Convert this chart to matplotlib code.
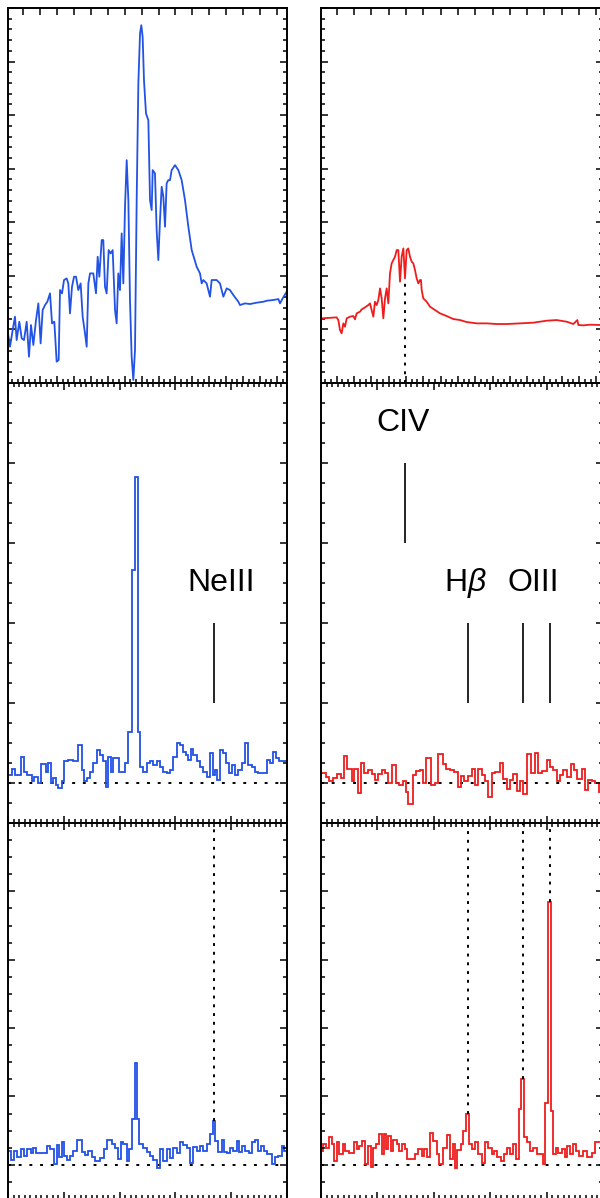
import numpy as np
import matplotlib
matplotlib.use("Agg")
import matplotlib.pyplot as plt
from matplotlib.ticker import MultipleLocator, FixedLocator

plt.rcParams['font.family'] = ['Liberation Sans', 'DejaVu Sans']
plt.rcParams['mathtext.fontset'] = 'custom'
plt.rcParams['mathtext.rm'] = 'Liberation Sans'
plt.rcParams['mathtext.it'] = 'Liberation Sans:italic'

BLUE = '#2252e6'
RED = '#f01c1c'

# ---- top row: 1-d spectra (arbitrary wavelength units 0-5) ----
tl_wave = [0.000, 0.036, 0.084, 0.125, 0.155, 0.203, 0.245, 0.287, 0.335, 0.376,
           0.412, 0.454, 0.502, 0.544, 0.585, 0.621, 0.663, 0.705, 0.753, 0.789,
           0.830, 0.872, 0.908, 0.932, 0.968, 1.004, 1.051, 1.081, 1.111, 1.147,
           1.183, 1.219, 1.260, 1.302, 1.338, 1.380, 1.410, 1.440, 1.470, 1.529,
           1.577, 1.607, 1.637, 1.679, 1.708, 1.738, 1.768, 1.804, 1.840, 1.876,
           1.918, 1.947, 1.977, 2.007, 2.037, 2.067, 2.097, 2.127, 2.157, 2.186,
           2.216, 2.246, 2.276, 2.306, 2.336, 2.366, 2.389, 2.413, 2.437, 2.473,
           2.515, 2.545, 2.575, 2.593, 2.634, 2.664, 2.694, 2.724, 2.754, 2.784,
           2.814, 2.843, 2.873, 2.903, 2.933, 2.993, 3.053, 3.112, 3.172, 3.232,
           3.292, 3.381, 3.441, 3.471, 3.501, 3.560, 3.620, 3.650, 3.740, 3.799,
           3.859, 3.919, 3.978, 4.038, 4.128, 4.158, 4.247, 4.337, 4.456, 4.576,
           4.636, 4.755, 4.845, 4.875, 4.922, 4.994]
tl_flux = [0.927, 0.678, 0.989, 1.238, 0.802, 1.144, 0.833, 0.802, 1.144, 0.491,
           1.082, 0.709, 1.175, 1.486, 0.740, 1.362, 1.455, 1.517, 1.673, 1.113,
           1.144, 0.398, 0.429, 1.735, 1.673, 1.922, 1.953, 1.859, 1.300, 1.797,
           1.984, 1.984, 1.735, 1.859, 1.238, 0.927, 0.678, 1.859, 2.046, 2.046,
           1.673, 2.357, 1.984, 2.668, 2.668, 1.797, 1.673, 2.481, 2.419, 2.481,
           1.362, 1.113, 2.046, 1.735, 2.792, 1.859, 3.290, 4.160, 3.414, 1.549,
           0.491, 0.056, 0.616, 3.414, 5.591, 6.524, 6.679, 6.461, 5.653, 5.031,
           4.907, 3.414, 3.228, 3.974, 3.912, 2.854, 2.295, 3.041, 3.663, 3.476,
           2.917, 3.725, 3.787, 3.787, 3.974, 4.067, 3.974, 3.787, 3.414, 2.917,
           2.481, 2.170, 2.046, 1.859, 1.922, 1.859, 1.611, 1.922, 1.922, 1.859,
           1.611, 1.766, 1.735, 1.642, 1.517, 1.455, 1.486, 1.474, 1.499, 1.517,
           1.536, 1.549, 1.567, 1.486, 1.580, 1.704]

tr_wave = [0.000, 0.278, 0.307, 0.337, 0.366, 0.396, 0.426, 0.455, 0.514, 0.573,
           0.603, 0.632, 0.691, 0.721, 0.780, 0.839, 0.869, 0.898, 0.928, 0.957,
           0.987, 1.017, 1.046, 1.076, 1.105, 1.135, 1.164, 1.194, 1.223, 1.253,
           1.282, 1.312, 1.342, 1.371, 1.401, 1.430, 1.460, 1.489, 1.519, 1.548,
           1.578, 1.608, 1.637, 1.667, 1.696, 1.726, 1.755, 1.773, 1.785, 1.814,
           1.874, 1.933, 2.021, 2.110, 2.228, 2.346, 2.465, 2.583, 2.760, 2.937,
           3.115, 3.292, 3.528, 3.765, 4.001, 4.178, 4.356, 4.474, 4.545, 4.563,
           4.651, 4.770, 5.000]
tr_flux = [1.206, 1.225, 1.175, 0.989, 0.927, 1.113, 1.051, 1.206, 1.238, 1.250,
           1.188, 1.300, 1.331, 1.374, 1.412, 1.455, 1.486, 1.362, 1.238, 1.517,
           1.455, 1.549, 1.766, 1.580, 1.206, 1.580, 1.766, 1.486, 2.046, 2.233,
           2.295, 2.357, 2.481, 2.481, 1.891, 2.357, 2.512, 1.953, 2.481, 2.512,
           2.357, 2.264, 2.233, 2.108, 1.953, 1.859, 1.922, 1.922, 1.735, 1.580,
           1.517, 1.424, 1.362, 1.300, 1.250, 1.194, 1.175, 1.138, 1.113, 1.113,
           1.101, 1.101, 1.113, 1.126, 1.163, 1.175, 1.144, 1.101, 1.175, 1.082,
           1.076, 1.088, 1.082]

# ---- middle row: binned spectra ----
ml_edges = [0.000, 0.066, 0.125, 0.227, 0.287, 0.335, 0.424, 0.472, 0.532, 0.591,
            0.681, 0.723, 0.765, 0.812, 0.860, 0.902, 0.962, 1.010, 1.069, 1.171,
            1.260, 1.320, 1.368, 1.422, 1.470, 1.529, 1.589, 1.649, 1.708, 1.756,
            1.798, 1.846, 1.888, 1.989, 2.097, 2.157, 2.228, 2.276, 2.324, 2.372,
            2.425, 2.485, 2.545, 2.605, 2.664, 2.724, 2.784, 2.843, 2.903, 2.951,
            3.023, 3.082, 3.142, 3.190, 3.232, 3.274, 3.321, 3.381, 3.441, 3.501,
            3.560, 3.620, 3.668, 3.710, 3.751, 3.799, 3.847, 3.907, 3.967, 4.008,
            4.068, 4.128, 4.188, 4.247, 4.307, 4.367, 4.427, 4.486, 4.636, 4.695,
            4.743, 4.803, 4.863, 4.922, 5.000]
ml_flux = [0.10, 0.18, 0.10, 0.32, 0.14, 0.10, 0.02, 0.08, 0.00, 0.24,
           0.14, 0.25, 0.00, 0.06, -0.03, -0.06, 0.02, 0.27, 0.29, 0.27,
           0.48, 0.16, 0.02, 0.06, 0.14, 0.25, 0.41, 0.35, 0.27, -0.05,
           0.32, 0.14, 0.31, 0.14, 0.25, 0.64, 2.66, 3.83, 0.64, 0.20,
           0.14, 0.25, 0.27, 0.23, 0.27, 0.20, 0.14, 0.12, 0.16, 0.33,
           0.50, 0.48, 0.39, 0.35, 0.29, 0.43, 0.35, 0.27, 0.20, 0.14,
           0.08, 0.37, 0.10, 0.16, 0.04, 0.41, 0.37, 0.25, 0.12, 0.23,
           0.10, 0.16, 0.25, 0.50, 0.23, 0.20, 0.14, 0.12, 0.29, 0.25,
           0.39, 0.31, 0.27, 0.27]

mr_edges = [0.000, 0.089, 0.148, 0.219, 0.278, 0.349, 0.408, 0.467, 0.544, 0.591,
            0.650, 0.709, 0.768, 0.827, 0.898, 0.957, 1.017, 1.076, 1.135, 1.194,
            1.253, 1.330, 1.389, 1.448, 1.507, 1.548, 1.625, 1.684, 1.755, 1.814,
            1.862, 1.944, 2.021, 2.080, 2.157, 2.216, 2.287, 2.364, 2.423, 2.482,
            2.541, 2.612, 2.671, 2.730, 2.790, 2.849, 2.908, 2.967, 3.026, 3.085,
            3.174, 3.233, 3.292, 3.351, 3.410, 3.469, 3.528, 3.587, 3.658, 3.718,
            3.794, 3.853, 3.913, 4.001, 4.060, 4.119, 4.190, 4.238, 4.297, 4.356,
            4.427, 4.486, 4.545, 4.622, 4.681, 4.740, 4.799, 4.858, 4.935, 5.000]
mr_flux = [0.13, 0.08, 0.02, 0.06, 0.11, 0.06, 0.34, 0.18, 0.02, 0.18,
           -0.12, 0.25, 0.12, 0.16, 0.11, 0.04, 0.11, 0.16, 0.12, 0.00,
           0.23, 0.00, -0.03, 0.02, -0.11, -0.26, 0.10, 0.15, 0.16, 0.00,
           0.31, -0.03, 0.00, 0.36, 0.24, 0.18, 0.16, 0.14, -0.05, 0.09,
           0.02, 0.09, 0.18, -0.03, 0.18, 0.10, 0.02, -0.18, 0.13, 0.14,
           0.25, 0.05, -0.07, 0.04, 0.11, -0.10, 0.02, -0.14, 0.36, 0.12,
           0.38, 0.12, 0.15, 0.29, 0.20, 0.16, 0.02, 0.10, 0.16, 0.08,
           0.24, 0.16, 0.05, 0.18, -0.09, 0.04, 0.03, 0.00, -0.11]

# ---- bottom row: binned spectra ----
bl_edges = [0.000, 0.048, 0.108, 0.167, 0.227, 0.287, 0.335, 0.406, 0.454, 0.502,
            0.693, 0.753, 0.824, 0.872, 0.920, 0.962, 1.004, 1.051, 1.111, 1.171,
            1.243, 1.320, 1.380, 1.440, 1.499, 1.559, 1.649, 1.720, 1.780, 1.858,
            1.918, 1.977, 2.019, 2.067, 2.127, 2.174, 2.222, 2.270, 2.306, 2.354,
            2.413, 2.485, 2.545, 2.605, 2.664, 2.724, 2.784, 2.843, 2.903, 2.963,
            3.023, 3.082, 3.142, 3.202, 3.262, 3.321, 3.381, 3.441, 3.501, 3.560,
            3.620, 3.668, 3.716, 3.769, 3.829, 3.871, 3.919, 3.978, 4.038, 4.098,
            4.146, 4.194, 4.253, 4.313, 4.373, 4.432, 4.480, 4.528, 4.588, 4.636,
            4.725, 4.785, 4.845, 4.904, 4.946, 5.000]
bl_flux = [0.20, 0.07, 0.20, 0.11, 0.23, 0.13, 0.23, 0.18, 0.24, 0.17,
           0.28, 0.23, 0.01, 0.29, 0.11, 0.33, 0.13, 0.07, 0.13, 0.20,
           0.36, 0.19, 0.15, 0.20, 0.12, 0.06, 0.10, 0.23, 0.36, 0.30,
           0.25, 0.08, 0.34, 0.31, 0.05, 0.23, 0.67, 1.49, 0.67, 0.31,
           0.25, 0.19, 0.13, 0.07, -0.05, 0.23, 0.06, 0.23, 0.10, 0.25,
           0.18, 0.33, 0.29, 0.25, 0.03, 0.26, 0.20, 0.28, 0.20, 0.30,
           0.45, 0.64, 0.35, 0.19, 0.37, 0.19, 0.18, 0.25, 0.20, 0.35,
           0.19, 0.28, 0.20, 0.18, 0.33, 0.37, 0.20, 0.28, 0.20, 0.16,
           0.01, 0.12, 0.13, 0.28, 0.20]

br_edges = [0.000, 0.041, 0.089, 0.148, 0.189, 0.236, 0.278, 0.325, 0.384, 0.426,
            0.502, 0.585, 0.632, 0.680, 0.721, 0.780, 0.839, 0.887, 0.928, 0.975,
            1.034, 1.076, 1.117, 1.152, 1.194, 1.235, 1.283, 1.342, 1.389, 1.430,
            1.489, 1.531, 1.608, 1.667, 1.726, 1.785, 1.826, 1.885, 1.933, 1.992,
            2.051, 2.098, 2.157, 2.228, 2.287, 2.335, 2.376, 2.417, 2.476, 2.524,
            2.571, 2.618, 2.671, 2.730, 2.790, 2.849, 2.908, 2.967, 3.026, 3.067,
            3.126, 3.186, 3.245, 3.292, 3.351, 3.410, 3.457, 3.505, 3.552, 3.599,
            3.647, 3.706, 3.765, 3.824, 3.883, 3.930, 3.978, 4.025, 4.072, 4.119,
            4.167, 4.208, 4.267, 4.326, 4.368, 4.415, 4.462, 4.521, 4.580, 4.639,
            4.710, 4.799, 4.858, 5.000]
br_flux = [0.20, 0.30, 0.25, 0.40, 0.30, 0.06, 0.33, 0.16, 0.30, 0.20,
           0.18, 0.34, 0.23, 0.28, 0.35, 0.01, 0.28, -0.03, 0.25, 0.30,
           0.45, 0.16, 0.45, 0.23, 0.42, 0.20, 0.37, 0.30, 0.20, 0.31,
           0.23, 0.08, 0.08, 0.16, 0.23, 0.13, 0.23, 0.12, 0.47, 0.35,
           0.16, 0.01, 0.25, 0.43, 0.08, 0.30, -0.04, 0.21, 0.30, 0.50,
           0.74, 0.30, 0.23, 0.33, 0.16, 0.03, 0.33, 0.25, 0.16, 0.20,
           0.11, 0.06, 0.16, 0.25, 0.16, 0.30, 0.08, 0.81, 1.25, 0.40,
           0.33, 0.20, 0.25, 0.16, 0.16, 0.01, 0.91, 3.85, 0.79, 0.16,
           0.25, 0.18, 0.23, 0.11, 0.28, 0.16, 0.30, 0.20, 0.13, 0.20,
           0.11, 0.18, 0.33]

# line identifications
civ_x = 1.49
neiii_x = 3.70
hb_x = 2.60
oiii_x = [3.58, 4.06]
line_labels = {'CIV': (1.45, 4.5), 'NeIII': (3.82, 2.5),
               r'H$\beta$': (2.55, 2.5), 'OIII': (3.76, 2.5)}
# peak heights reached by the dotted guides in the bottom row
bl_guide_low = 0.64
br_guide_low = [0.74, 1.25, 3.85]

W, H = 600, 1198
fig = plt.figure(figsize=(W / 100, H / 100), dpi=100)


def make_ax(x0, x1, y0, y1):
    return fig.add_axes([x0 / W, 1 - y1 / H, (x1 - x0) / W, (y1 - y0) / H])


cols = [(8, 287), (321, 603)]
rows = [(8, 383), (383, 823), (823, 1199)]
axes = [[make_ax(c[0], c[1], r[0], r[1]) for c in cols] for r in rows]

for i, row in enumerate(axes):
    for j, ax in enumerate(row):
        ax.set_xlim(0, 5)
        if i == 0:
            ax.set_ylim(0, 7)
            ax.yaxis.set_major_locator(MultipleLocator(1))
            ax.yaxis.set_minor_locator(MultipleLocator(0.2))
            start, step = (0.274, 0.303) if j == 0 else (0.278, 0.307)
            ax.xaxis.set_major_locator(FixedLocator(np.arange(start, 5, step)))
            ax.xaxis.set_minor_locator(FixedLocator(np.arange(start % (step / 3), 5, step / 3)))
        else:
            ax.set_ylim(-0.5, 5)
            ax.yaxis.set_major_locator(MultipleLocator(1))
            ax.yaxis.set_minor_locator(MultipleLocator(0.25))
            ax.xaxis.set_major_locator(MultipleLocator(1))
            ax.xaxis.set_minor_locator(MultipleLocator(0.1))
            ax.axhline(0, color='black', ls=(0, (1.5, 4)), lw=1.4, zorder=1)
        ax.tick_params(which='both', direction='in', top=True, right=True,
                       labelbottom=False, labelleft=False, width=1.1)
        ax.tick_params(which='major', length=5)
        ax.tick_params(which='minor', length=2.8)
        if i == 0:
            ax.tick_params(which='minor', top=False)
        for s in ax.spines.values():
            s.set_linewidth(1.4)

lw = 1.3
dot = (0, (1.5, 3))

# top row
axes[0][0].plot(tl_wave, tl_flux, color=BLUE, lw=lw)
axes[0][1].plot(tr_wave, tr_flux, color=RED, lw=lw)
axes[0][1].vlines(civ_x, 0, 1.88, colors='black', linestyles=dot, lw=1.4)

# middle row
axes[1][0].stairs(ml_flux, ml_edges, color=BLUE, lw=lw, baseline=None)
axes[1][1].stairs(mr_flux, mr_edges, color=RED, lw=lw, baseline=None)
axes[1][0].vlines(neiii_x, 1, 2, colors='black', lw=1.2)
axes[1][1].vlines(civ_x, 3, 4, colors='black', lw=1.2)
axes[1][1].vlines([hb_x] + oiii_x, 1, 2, colors='black', lw=1.2)
for txt, (x, y) in line_labels.items():
    ax = axes[1][0] if txt == 'NeIII' else axes[1][1]
    ax.text(x, y, txt, fontsize=23, ha='center', va='center', color='black')

# bottom row
axes[2][0].stairs(bl_flux, bl_edges, color=BLUE, lw=lw, baseline=None)
axes[2][1].stairs(br_flux, br_edges, color=RED, lw=lw, baseline=None)
axes[2][0].vlines(neiii_x, bl_guide_low, 5, colors='black', linestyles=dot, lw=1.4)
for x, lo in zip([hb_x] + oiii_x, br_guide_low):
    axes[2][1].vlines(x, lo, 5, colors='black', linestyles=dot, lw=1.4)

fig.savefig('out.png', dpi=100)
